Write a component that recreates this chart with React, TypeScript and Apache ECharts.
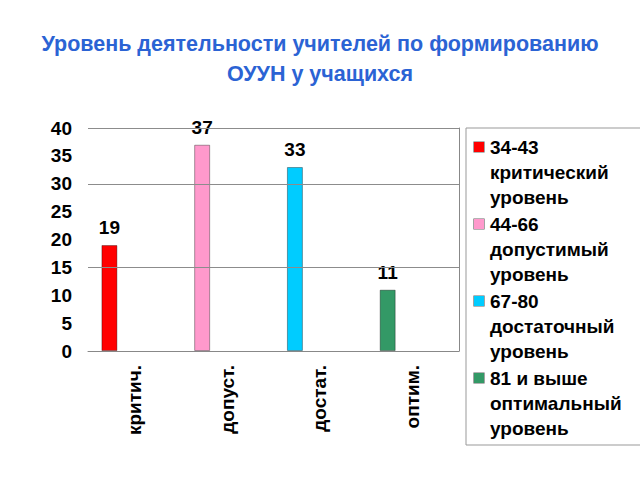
import React, { useEffect, useRef } from "react";
import * as echarts from "echarts";

const titleLines = ["Уровень деятельности учителей по формированию", "ОУУН у учащихся"];
const categories = ["критич.", "допуст.", "достат.", "оптим."];
const values = [19, 37, 33, 11];
const colors = ["#ff0000", "#ff99cc", "#00ccff", "#339966"];
const legendLines = [
  ["34-43", "критический", "уровень"],
  ["44-66", "допустимый", "уровень"],
  ["67-80", "достаточный", "уровень"],
  ["81 и выше", "оптимальный", "уровень"],
];
const yTicks = { min: 0, max: 40, interval: 5 };
const gridLineValues = [15, 30, 40];

export default function App() {
  const ref = useRef<HTMLDivElement>(null);
  useEffect(() => {
    if (!ref.current) return;
    const chart = echarts.init(ref.current, null, { renderer: "svg" });
    const names = legendLines.map((l) => l.join(" "));
    const font = "'Liberation Sans', Arial, sans-serif";
    const txt = { fontSize: 19, fontWeight: "bold" as const, fontFamily: font, color: "#000" };
    const rich: any = {
      h: { ...txt, lineHeight: 25, padding: [0, 0, 0, 6] },
      b: { ...txt, lineHeight: 25, padding: [0, 0, 0, 16] },
    };
    colors.forEach((c, i) => {
      rich["sq" + i] = {
        width: 10,
        height: 10,
        backgroundColor: c,
        borderColor: "#666",
        borderWidth: 0.6,
      };
    });
    const series: any[] = names.map((name, i) => ({
      name,
      type: "bar",
      stack: "main",
      barWidth: 16,
      barGap: "212%",
      data: categories.map((_, j) => (j === i ? values[i] : "-")),
      itemStyle: { color: colors[i], borderColor: "rgba(0,0,0,0.35)", borderWidth: 1 },
      label: {
        show: true,
        position: "top",
        distance: 8,
        ...txt,
      },
      markLine:
        i === 0
          ? {
              silent: true,
              symbol: ["none", "none"],
              label: { show: false },
              lineStyle: { color: "#8c8c8c", type: "solid", width: 1 },
              data: gridLineValues.map((v) => ({ yAxis: v })),
            }
          : undefined,
    }));
    series.push({
      name: "_spacer",
      type: "bar",
      stack: "spacer",
      barWidth: 16,
      barGap: "212%",
      data: [],
    });
    chart.setOption({
      animation: false,
      backgroundColor: "#fff",
      title: {
        text: titleLines.join("\n"),
        left: "center",
        top: 24,
        textStyle: {
          fontSize: 21.5,
          fontWeight: "bold",
          fontFamily: font,
          color: "#2b63d4",
          lineHeight: 30,
        },
      },
      grid: { left: 88, top: 128, width: 371, height: 223 },
      xAxis: {
        type: "category",
        data: categories,
        axisLine: { lineStyle: { color: "#888" } },
        axisTick: { length: 5, lineStyle: { color: "#888" } },
        axisLabel: {
          rotate: 90,
          margin: 14,
          ...txt,
        },
      },
      yAxis: [
        {
          type: "value",
          min: yTicks.min,
          max: yTicks.max,
          interval: yTicks.interval,
          axisLine: { show: false },
          axisTick: { show: false },
          splitLine: { show: false },
          axisLabel: { margin: 16, ...txt },
        },
        {
          type: "value",
          position: "right",
          min: yTicks.min,
          max: yTicks.max,
          interval: yTicks.interval,
          axisLine: { show: true, lineStyle: { color: "#888" } },
          axisTick: { show: false },
          splitLine: { show: false },
          axisLabel: { show: false },
        },
      ],
      legend: {
        data: names,
        orient: "vertical",
        left: 466,
        top: 128,
        padding: [9.5, 80, 7.5, 3],
        itemGap: 8,
        itemWidth: 0,
        itemHeight: 0,
        icon: "none",
        selectedMode: false,
        borderColor: "#999",
        borderWidth: 1,
        formatter: (name: string) => {
          const i = names.indexOf(name);
          const l = legendLines[i];
          return `{sq${i}|}{h|${l[0]}}\n{b|${l[1]}}\n{b|${l[2]}}`;
        },
        textStyle: { rich },
      },
      series,
    });
    return () => chart.dispose();
  }, []);
  return (
    <div style={{ position: "absolute", left: 0, top: 0, width: 640, height: 480, overflow: "hidden" }}>
      <div ref={ref} style={{ width: 640, height: 480 }} />
    </div>
  );
}
